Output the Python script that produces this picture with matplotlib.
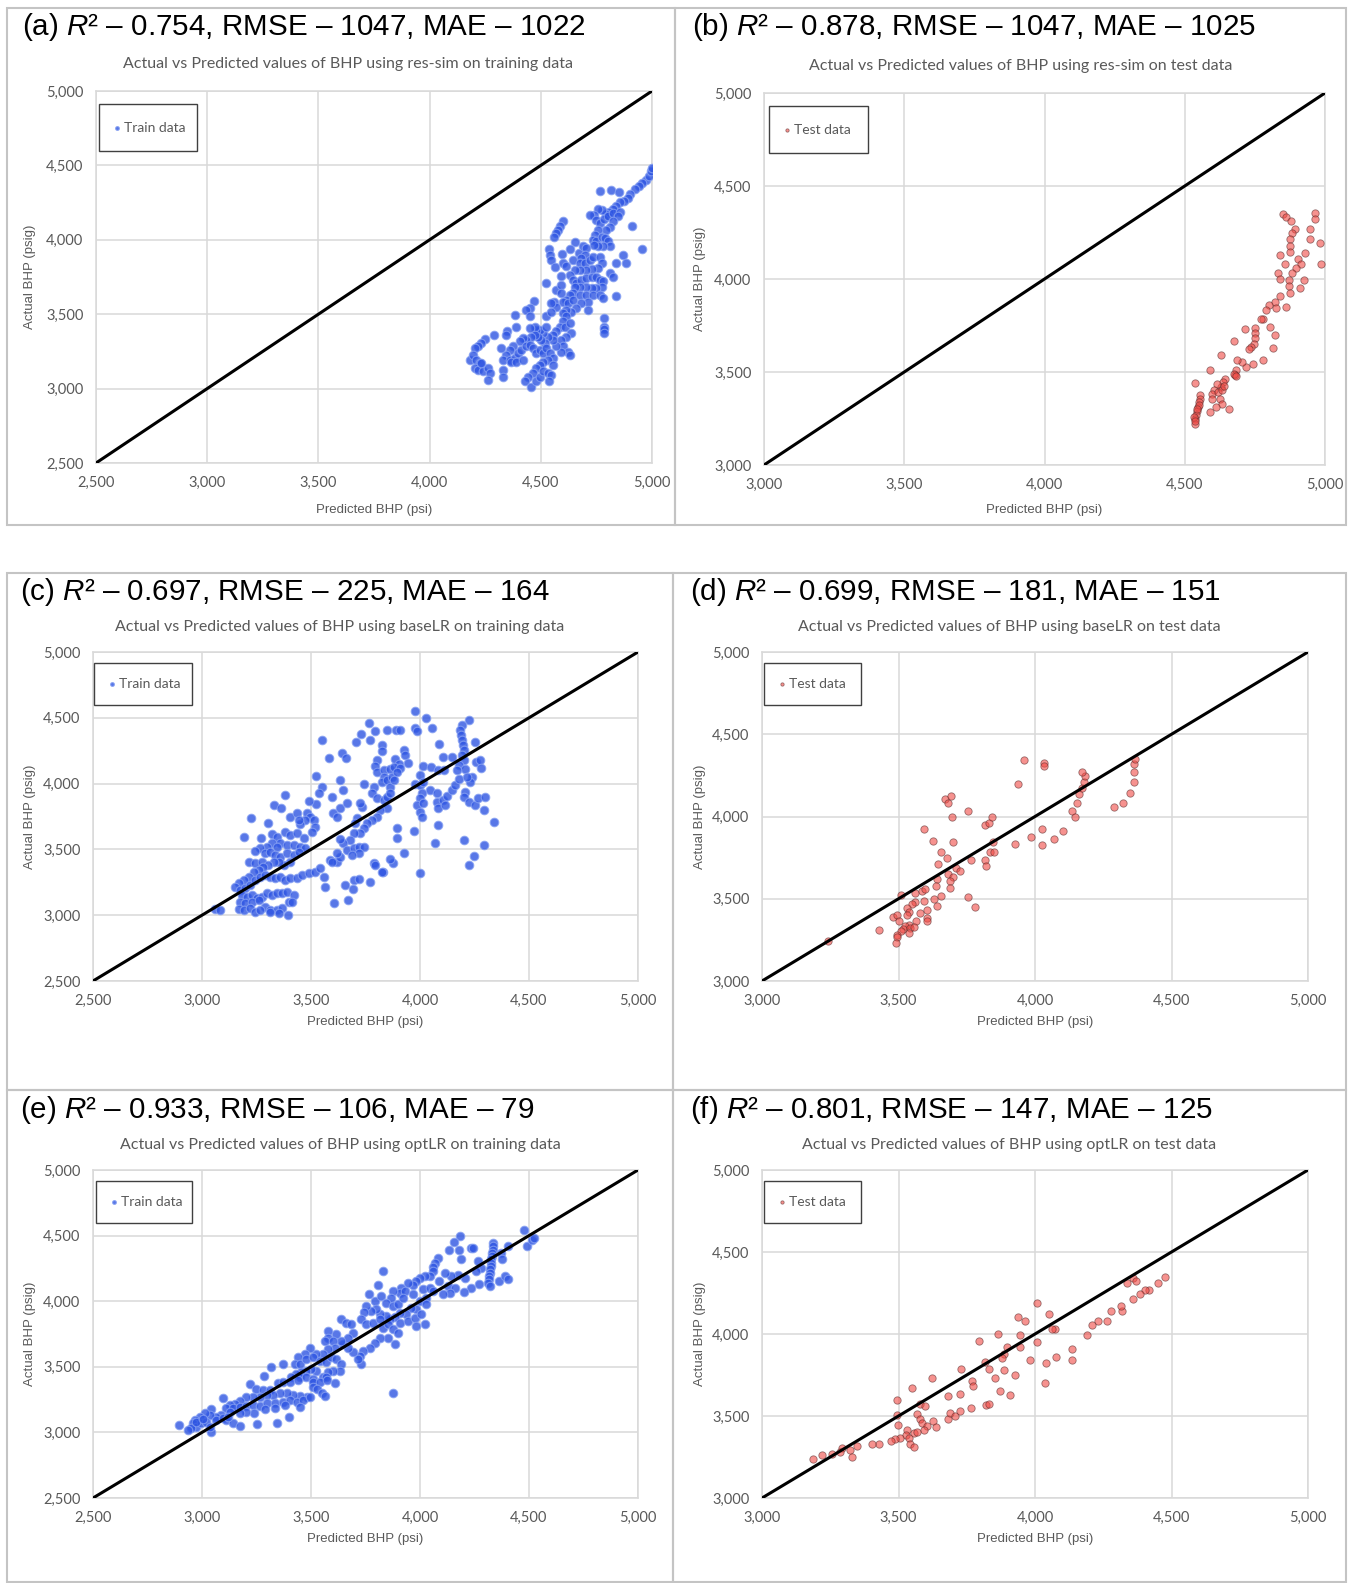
import matplotlib
matplotlib.use('Agg')
import matplotlib.pyplot as plt
from matplotlib.patches import Rectangle
from matplotlib.ticker import FuncFormatter, MultipleLocator

plt.rcParams['mathtext.fontset'] = 'custom'
plt.rcParams['mathtext.it'] = 'Liberation Sans:italic'
plt.rcParams['mathtext.rm'] = 'Liberation Sans'

# (predicted, actual) pairs
train_res_sim = [
    (4975, 4403), (4957, 4385), (4942, 4363), (4922, 4340), (4903, 4309), (4890, 4280), (4873, 4264),
    (4855, 4251), (4840, 4228), (4825, 4206), (4807, 4190), (4792, 4175), (4773, 4197), (4756, 4206),
    (4740, 4168), (4765, 4325), (4815, 4336), (4850, 4320), (4723, 4168), (4750, 4134), (4765, 4112),
    (4783, 4139), (4803, 4157), (4825, 4179), (4855, 4190), (4848, 4157), (4825, 4123), (4810, 4089),
    (4795, 4067), (4758, 4067), (4743, 4033), (4735, 4000), (4750, 3989), (4773, 4022), (4788, 4011),
    (4803, 3989), (4810, 3960), (4780, 3955), (4758, 3955), (4738, 3966), (4908, 4094), (4953, 3937),
    (4870, 3899), (4885, 3847), (4837, 3843), (4600, 4123), (4588, 4094), (4578, 4067), (4570, 4045),
    (4558, 4018), (4655, 3982), (4633, 3937), (4985, 4430), (4995, 4460), (5000, 4485),
    (4535, 3937), (4540, 3899), (4548, 3865), (4563, 3816), (4597, 3906), (4600, 3847), (4612, 3825),
    (4645, 3865), (4672, 3910), (4690, 3955), (4705, 3944), (4698, 3899), (4683, 3877), (4675, 3843),
    (4698, 3843), (4720, 3865), (4735, 3883), (4765, 3883), (4773, 3843), (4758, 3809), (4728, 3803),
    (4705, 3798), (4675, 3798), (4653, 3798), (4630, 3765), (4645, 3731), (4660, 3709), (4683, 3731),
    (4705, 3742), (4728, 3753), (4750, 3753), (4765, 3731), (4780, 3720), (4773, 3686), (4750, 3675),
    (4728, 3675), (4705, 3686), (4675, 3686), (4653, 3686), (4645, 3641), (4630, 3630), (4615, 3597),
    (4600, 3585), (4623, 3574), (4645, 3597), (4675, 3630), (4705, 3630), (4735, 3630), (4765, 3630),
    (4780, 3608), (4813, 3780), (4825, 3749), (4837, 3619), (4522, 3713), (4570, 3664), (4593, 3697),
    (4590, 3641), (4558, 3579), (4570, 3547), (4548, 3574), (4593, 3758), (4713, 3585), (4683, 3574),
    (4660, 3541), (4638, 3518), (4615, 3529), (4600, 3507), (4713, 3529), (4470, 3590), (4450, 3541),
    (4432, 3529), (4450, 3485), (4383, 3496), (4525, 3485), (4548, 3518),
    (4615, 3485), (4600, 3451), (4585, 3417), (4570, 3384), (4555, 3361), (4608, 3417), (4630, 3440),
    (4638, 3373), (4615, 3350), (4593, 3328), (4600, 3283), (4623, 3249), (4630, 3227), (4593, 3249),
    (4570, 3283), (4555, 3328), (4533, 3350), (4510, 3373), (4495, 3395), (4480, 3395), (4473, 3417),
    (4450, 3406), (4525, 3417), (4518, 3305), (4503, 3328), (4488, 3350), (4473, 3361), (4458, 3350),
    (4435, 3328), (4420, 3339), (4405, 3317), (4375, 3283), (4360, 3261), (4345, 3227), (4330, 3193),
    (4360, 3193), (4383, 3205), (4398, 3238), (4413, 3261), (4435, 3283), (4450, 3294), (4465, 3272),
    (4480, 3238), (4495, 3261), (4510, 3238), (4525, 3272), (4540, 3238), (4555, 3205), (4533, 3193),
    (4510, 3182), (4495, 3160), (4480, 3137), (4465, 3104), (4443, 3081), (4428, 3048), (4458, 3014),
    (4480, 3048), (4495, 3081), (4510, 3115), (4533, 3104), (4548, 3093), (4537, 3048), (4555, 3160),
    (4350, 3384), (4345, 3361), (4387, 3417), (4290, 3361), (4248, 3332), (4233, 3305), (4218, 3283),
    (4203, 3272), (4180, 3193), (4195, 3227), (4210, 3193), (4225, 3171), (4203, 3137), (4218, 3126),
    (4240, 3115), (4263, 3137), (4270, 3104), (4263, 3059), (4233, 3171), (4323, 3272), (4330, 3126),
    (4330, 3081), (4368, 3182), (4390, 3182), (4420, 3193), (4783, 3473), (4783, 3417), (4783, 3400),
    (4783, 3377),
]

test_res_sim = [
    (4850, 4349), (4862, 4331), (4880, 4313), (4892, 4271), (4884, 4249), (4876, 4213), (4876, 4177),
    (4874, 4145), (4964, 4354), (4966, 4322), (4946, 4271), (4946, 4213), (4982, 4195), (4928, 4141),
    (4904, 4105), (4916, 4083), (4898, 4060), (4884, 4033), (4872, 3997), (4872, 3961), (4874, 3924),
    (4838, 4127), (4856, 4083), (4832, 4033), (4838, 4000), (4924, 3997), (4910, 3952), (4984, 4083),
    (4838, 3910), (4820, 3879), (4802, 3861), (4788, 3831), (4824, 3843), (4860, 3849), (4778, 3784),
    (4772, 3784), (4752, 3735), (4752, 3708), (4749, 3681), (4748, 3650), (4736, 3632), (4730, 3621),
    (4714, 3729), (4804, 3744), (4820, 3699), (4814, 3627), (4778, 3567), (4744, 3545), (4718, 3527),
    (4704, 3554), (4688, 3567), (4682, 3509), (4680, 3482), (4676, 3491), (4684, 3477), (4676, 3666),
    (4630, 3594), (4590, 3509), (4644, 3464), (4636, 3446), (4628, 3419), (4616, 3434), (4604, 3405),
    (4598, 3383), (4596, 3356), (4620, 3392), (4632, 3401), (4640, 3423), (4624, 3356), (4632, 3329),
    (4612, 3314), (4590, 3284), (4656, 3302), (4556, 3379), (4556, 3356), (4552, 3338), (4548, 3314),
    (4544, 3293), (4540, 3271), (4538, 3248), (4536, 3221), (4538, 3441), (4550, 3320), (4544, 3302),
    (4534, 3257), (4536, 3239),
]

train_base_lr = [
    (3978, 4551), (4029, 4500), (3767, 4460), (3795, 4399), (3848, 4404), (3891, 4404), (3906, 4409),
    (3978, 4424), (3986, 4399), (4055, 4424), (4227, 4485), (4192, 4442), (4185, 4404), (4188, 4366),
    (4192, 4328), (4197, 4291), (4200, 4253), (4192, 4215), (4200, 4177), (4181, 4139), (4207, 4114),
    (4253, 4316), (4258, 4164), (4276, 4177), (4281, 4121), (4085, 4298), (4105, 4202), (4146, 4202),
    (3729, 4374), (3706, 4316), (3769, 4328), (3825, 4291), (3825, 4245), (3925, 4253), (3932, 4215),
    (3886, 4190), (3902, 4152), (3947, 4157), (3802, 4177), (3795, 4132), (3802, 4089), (3833, 4106),
    (3863, 4114), (3879, 4127), (3909, 4121), (3551, 4328), (3581, 4195), (3642, 4233), (3662, 4197),
    (4012, 4132), (4050, 4127), (4081, 4101), (4111, 4106), (4169, 4101), (4238, 4051), (4230, 4013),
    (3524, 4061),
    (3833, 4051), (3825, 4013), (3848, 4026), (3871, 4051), (3863, 3975), (3894, 4089), (3882, 4026),
    (4001, 4063), (3978, 4000), (4001, 3988), (4016, 4013), (4044, 3950), (4009, 3925), (4001, 3887),
    (3986, 3836), (4013, 3849), (3998, 3786), (4009, 3748), (4078, 3925), (4078, 3862), (4081, 3811),
    (4105, 3874), (4116, 3836), (4126, 3904), (4146, 3950), (4162, 3988), (4177, 4038), (4215, 4051),
    (4207, 3937), (4200, 3899), (4227, 3861), (4253, 3836), (4264, 3894), (4299, 3899), (4292, 3798),
    (4341, 3710), (3741, 4000), (3787, 3975), (3779, 3925), (3802, 3887), (3833, 3874), (3848, 3899),
    (3863, 3925), (3848, 3811), (3818, 3798), (3802, 3748), (3779, 3723), (3756, 3697), (3741, 3659),
    (3726, 3621), (3711, 3735), (3733, 3824), (3726, 3849), (3703, 3697), (3634, 4026), (3649, 3950),
    (3631, 3811), (3603, 3773), (3619, 3748), (3550, 3975), (3535, 3925), (3596, 3899), (3524, 3844),
    (3493, 3869), (3481, 3773), (3496, 3748), (3512, 3723), (3474, 3723), (3451, 3692), (3519, 3672),
    (3504, 3634), (3665, 3849), (3695, 3621), (3680, 3571), (3649, 3546), (3634, 3576), (3894, 3659),
    (3894, 3584), (3974, 3642), (4070, 3546), (4081, 3685), (4200, 3571), (4295, 3533), (3382, 3912),
    (3328, 3836), (3362, 3811), (3405, 3748), (3435, 3773), (3443, 3723), (3226, 3735), (3305, 3702),
    (3194, 3596), (3270, 3584), (3321, 3617), (3344, 3596), (3382, 3634), (3405, 3609), (3435, 3621),
    (3466, 3584), (3359, 3546), (3321, 3546), (3298, 3520), (3267, 3508), (3244, 3490), (3390, 3533),
    (3420, 3533), (3451, 3520), (3474, 3508), (3344, 3520),
    (3214, 3407), (3244, 3394), (3275, 3407), (3290, 3470), (3313, 3483), (3336, 3457), (3359, 3445),
    (3390, 3470), (3420, 3457), (3443, 3483), (3405, 3407), (3374, 3382), (3351, 3407), (3328, 3407),
    (3305, 3382), (3282, 3369), (3260, 3344), (3237, 3331), (3214, 3293), (3191, 3268), (3168, 3243),
    (3152, 3218), (3175, 3192), (3198, 3205), (3221, 3230), (3244, 3268), (3267, 3293), (3290, 3306),
    (3313, 3293), (3336, 3281), (3359, 3293), (3382, 3268), (3405, 3281), (3435, 3281), (3458, 3306),
    (3489, 3318), (3520, 3331), (3543, 3356), (3558, 3293), (3565, 3218), (3588, 3419), (3619, 3407),
    (3634, 3445), (3665, 3495), (3695, 3508), (3718, 3520), (3741, 3520), (3718, 3470), (3688, 3457),
    (3619, 3470), (3596, 3407), (3787, 3394), (3830, 3331), (3876, 3399), (3928, 3475), (4001, 3318),
    (4227, 3382), (4249, 3450), (3183, 3154), (3206, 3142), (3229, 3154), (3252, 3129), (3275, 3142),
    (3298, 3167), (3321, 3154), (3344, 3167), (3367, 3167), (3390, 3180), (3420, 3154), (3175, 3104),
    (3198, 3091), (3229, 3104), (3260, 3116), (3290, 3066), (3313, 3041), (3344, 3041), (3367, 3053),
    (3397, 3104), (3412, 3104), (3168, 3046), (3191, 3041), (3221, 3053), (3244, 3028), (3267, 3041),
    (3313, 3028), (3351, 3020), (3393, 3003), (3061, 3046), (3084, 3036), (3607, 3091), (3672, 3116),
    (3657, 3230), (3695, 3268), (3718, 3273), (3692, 3197), (3772, 3250), (3825, 3331), (3863, 3425),
    (3795, 3382),
]

test_base_lr = [
    (3958, 4344), (4034, 4324), (4034, 4307), (3936, 4196), (3671, 4105), (3681, 4081), (3693, 4125),
    (3754, 4034), (3695, 3996), (3818, 3949), (3830, 3959), (3842, 3996), (3592, 3925), (3626, 3854),
    (3699, 3846), (3656, 3787), (3677, 3747), (3644, 3710), (3711, 3686), (3726, 3670), (3683, 3652),
    (3699, 3635), (3689, 3605), (3687, 3565), (3640, 3621), (3637, 3575), (3846, 3842), (3836, 3787),
    (3848, 3787), (3765, 3733), (3818, 3737), (3820, 3702), (3928, 3834), (3985, 3878), (4024, 3824),
    (4025, 3925), (4071, 3864), (4102, 3909), (4135, 4034), (4148, 3996), (4154, 4081), (4163, 4137),
    (4172, 4176), (4178, 4212), (4184, 4247), (4172, 4273), (4288, 4056), (4322, 4081), (4347, 4145),
    (4364, 4212), (4361, 4273), (4361, 4318), (4368, 4350), (3508, 3524), (3561, 3534), (3585, 3550),
    (3598, 3559), (3561, 3478), (3592, 3484), (3549, 3470), (3530, 3443), (3537, 3417), (3530, 3403),
    (3579, 3413), (3604, 3433), (3631, 3500), (3656, 3514), (3640, 3457), (3754, 3510), (3781, 3447),
    (3479, 3387), (3496, 3399), (3502, 3366), (3606, 3382), (3606, 3362), (3565, 3362), (3537, 3342),
    (3524, 3332), (3518, 3316), (3543, 3322), (3555, 3328), (3537, 3291), (3508, 3301), (3494, 3281),
    (3494, 3267), (3491, 3231), (3430, 3308), (3242, 3243),
]

train_opt_lr = [
    (4476, 4546), (4493, 4424), (4515, 4470), (4522, 4482), (4182, 4500), (4155, 4452), (4133, 4394),
    (4179, 4394), (4190, 4323), (4236, 4402), (4243, 4402), (4335, 4445), (4335, 4419), (4335, 4394),
    (4332, 4369), (4330, 4343), (4327, 4318), (4327, 4293), (4324, 4267), (4323, 4242), (4320, 4217),
    (4317, 4191), (4315, 4166), (4312, 4141), (4320, 4115), (4373, 4369), (4404, 4419), (4378, 4318),
    (4363, 4153), (4389, 4191), (4404, 4166), (4266, 4310), (4282, 4255), (4256, 4229), (4271, 4128),
    (4236, 4103), (4205, 4179), (4200, 4072), (4174, 4199), (4144, 4191), (4113, 4217), (4087, 4153),
    (4129, 4115), (4159, 4098), (4136, 4065), (4106, 4052), (4083, 4326), (4067, 4293), (4060, 4260),
    (4060, 4229), (4044, 4191), (4022, 4191), (3999, 4174), (3983, 4153), (3968, 4123), (3945, 4141),
    (3915, 4103), (3907, 4065), (3930, 4077), (3876, 4077), (3869, 4027), (3830, 4229), (3808, 4123),
    (3766, 4057), (3792, 4001), (3823, 4039), (3846, 3989), (3876, 3963), (3899, 3981), (3922, 4027),
    (3968, 4052), (4014, 4090), (4044, 4103), (4060, 4077), (4029, 4027), (3999, 4001), (4029, 3976),
    (3983, 3938), (3960, 3951), (3937, 3900), (3907, 3913), (3884, 3880), (3861, 3862), (3846, 3888),
    (3815, 3900), (3800, 3938), (3777, 3925), (3754, 3963), (3742, 3920), (3731, 3862), (3754, 3824),
    (3785, 3837), (3815, 3862), (3830, 3799), (3853, 3824), (3876, 3786), (3907, 3837), (3945, 3850),
    (3976, 3875), (4006, 3900), (4025, 3829), (3983, 3812), (3899, 3761), (3884, 3677), (3853, 3723),
    (3815, 3723), (3792, 3685), (3769, 3647), (3739, 3622), (3723, 3584), (3731, 3520), (3716, 3558),
    (3693, 3609), (3670, 3647), (3647, 3672), (3639, 3862), (3662, 3837), (3685, 3824), (3693, 3761),
    (3670, 3723), (3639, 3698), (3616, 3748), (3578, 3774), (3578, 3723), (3563, 3698), (3601, 3698),
    (3609, 3647), (3578, 3634), (3555, 3596), (3525, 3596), (3494, 3647), (3471, 3596), (3441, 3571),
    (3425, 3520), (3448, 3520), (3479, 3558), (3509, 3571), (3540, 3546), (3571, 3533), (3593, 3571),
    (3616, 3558), (3639, 3520), (3632, 3470), (3601, 3470), (3578, 3457), (3555, 3419), (3525, 3470),
    (3502, 3482), (3479, 3470), (3456, 3457), (3433, 3444), (3410, 3419), (3448, 3419), (3479, 3419),
    (3509, 3406), (3571, 3419), (3318, 3495), (3372, 3525), (3283, 3432),
    (3219, 3368), (3247, 3327), (3281, 3322), (3311, 3322), (3350, 3373), (3373, 3385), (3403, 3385),
    (3442, 3398), (3511, 3385), (3541, 3385), (3572, 3398), (3610, 3378), (3511, 3347), (3526, 3327),
    (3549, 3297), (3564, 3276), (3480, 3271), (3449, 3276), (3419, 3284), (3388, 3297), (3357, 3297),
    (3327, 3284), (3296, 3284), (3265, 3271), (3235, 3271), (3204, 3271), (3173, 3241), (3150, 3216),
    (3127, 3208), (3096, 3266), (3112, 3183), (3143, 3183), (3173, 3195), (3204, 3200), (3235, 3208),
    (3265, 3200), (3296, 3221), (3334, 3226), (3373, 3233), (3403, 3246), (3434, 3233), (3465, 3246),
    (3495, 3271), (3380, 3208), (3449, 3195), (3334, 3183), (3288, 3175), (3238, 3145), (3204, 3157),
    (3173, 3145), (3127, 3157), (3089, 3132), (3066, 3119), (3043, 3175), (3035, 3132), (3012, 3145),
    (2989, 3119), (2966, 3094), (2958, 3069), (2974, 3043), (2951, 3031), (2935, 3018), (2997, 3069),
    (3020, 3081), (3043, 3003), (3035, 3043), (3066, 3094), (3096, 3107), (3112, 3094), (3143, 3069),
    (3176, 3049), (3252, 3064), (3342, 3074), (3400, 3114), (2894, 3056), (3874, 3304), (2974, 3081),
    (3004, 3099), (3119, 3119),
]

test_opt_lr = [
    (4477, 4348), (4449, 4314), (4418, 4269), (4402, 4269), (4385, 4243), (4360, 4213), (4360, 4340),
    (4369, 4324), (4336, 4308), (4320, 4142), (4316, 4172), (4277, 4138), (4263, 4077), (4232, 4077),
    (4207, 4057), (4192, 3996), (4136, 3909), (4136, 3842), (4078, 3862), (4075, 4030), (4063, 4030),
    (4053, 4122), (4042, 3822), (4035, 3701), (4008, 4192), (4008, 3950), (3981, 3844), (3965, 4077),
    (3938, 4101), (3944, 3994), (3944, 3923), (3898, 3923), (3886, 3879), (3879, 3852), (3888, 3782),
    (3928, 3747), (3910, 3626), (3871, 3652), (3852, 3733), (3832, 3786), (3818, 3832), (3796, 3960),
    (3865, 3998), (3769, 3711), (3773, 3680), (3730, 3786), (3726, 3636), (3681, 3620), (3622, 3731),
    (3551, 3670), (3494, 3599), (3496, 3508), (3499, 3448), (3567, 3514), (3577, 3575), (3598, 3559),
    (3580, 3484), (3586, 3458), (3604, 3437), (3592, 3417), (3628, 3468), (3637, 3433), (3681, 3484),
    (3690, 3518), (3708, 3498), (3724, 3531), (3766, 3551), (3819, 3565), (3832, 3571), (3557, 3397),
    (3567, 3403), (3531, 3413), (3528, 3383), (3537, 3367), (3543, 3332), (3555, 3308), (3506, 3363),
    (3488, 3358), (3472, 3346), (3427, 3328), (3402, 3328), (3347, 3316), (3322, 3292), (3292, 3302),
    (3286, 3282), (3255, 3271), (3218, 3261), (3188, 3235), (3329, 3247),
]

titles = [
    r'(a) $\mathit{R}$² – 0.754, RMSE – 1047, MAE – 1022',
    r'(b) $\mathit{R}$² – 0.878, RMSE – 1047, MAE – 1025',
    r'(c) $\mathit{R}$² – 0.697, RMSE – 225, MAE – 164',
    r'(d) $\mathit{R}$² – 0.699, RMSE – 181, MAE – 151',
    r'(e) $\mathit{R}$² – 0.933, RMSE – 106, MAE – 79',
    r'(f) $\mathit{R}$² – 0.801, RMSE – 147, MAE – 125',
]
subtitles = [
    'Actual vs Predicted values of BHP using res-sim on training data',
    'Actual vs Predicted values of BHP using res-sim on test data',
    'Actual vs Predicted values of BHP using baseLR on training data',
    'Actual vs Predicted values of BHP using baseLR on test data',
    'Actual vs Predicted values of BHP using optLR on training data',
    'Actual vs Predicted values of BHP using optLR on test data',
]
series = [train_res_sim, test_res_sim, train_base_lr, test_base_lr, train_opt_lr, test_opt_lr]
kinds = ['train', 'test', 'train', 'test', 'train', 'test']
axis_min = [2500, 3000, 2500, 3000, 2500, 3000]
axis_max = 5000

W, H = 1349, 1583
fig = plt.figure(figsize=(W / 100, H / 100), dpi=100)
fig.patch.set_facecolor('white')

# layout in pixels
axes_px = [(96, 91, 652, 463), (764, 93, 1325, 465),
           (93, 652, 638, 981), (762, 652, 1308, 981),
           (93, 1170, 638, 1498), (762, 1170, 1308, 1498)]
title_px = [(22, 27), (692, 27), (20, 592), (690, 592), (20, 1110), (690, 1110)]
sub_px = [(348, 64), (1021, 66), (340, 627), (1009, 627), (340, 1145), (1009, 1145)]
ylab_x = [30, 700, 30, 700, 30, 700]
xlab_y = [510, 510, 1022, 1022, 1539, 1539]
# legend box: offset from axes top-left, width, height (px)
leg_box = [(3, 13, 98, 47), (5, 13, 99, 47), (1, 11, 98, 42),
           (2, 11, 97, 42), (3, 11, 96, 42), (2, 11, 97, 42)]

# panel frames
for (x0, y0, x1, y1) in [(7, 8, 675, 525), (675, 8, 1346, 525), (7, 573, 673, 1090),
                         (673, 573, 1346, 1090), (7, 1090, 673, 1582), (673, 1090, 1346, 1582)]:
    fig.add_artist(Rectangle((x0 / W, 1 - y1 / H), (x1 - x0) / W, (y1 - y0) / H,
                             transform=fig.transFigure, fill=False, edgecolor='#C4C4C4', lw=1.5))

gray = '#595959'
fmt = FuncFormatter(lambda v, p: f'{v:,.0f}')

for i in range(6):
    l, t, r, b = axes_px[i]
    aw, ah = r - l, b - t
    ax = fig.add_axes([l / W, 1 - b / H, aw / W, ah / H])
    lo = axis_min[i]
    ax.set_xlim(lo, axis_max)
    ax.set_ylim(lo, axis_max)
    ax.xaxis.set_major_locator(MultipleLocator(500))
    ax.yaxis.set_major_locator(MultipleLocator(500))
    ax.xaxis.set_major_formatter(fmt)
    ax.yaxis.set_major_formatter(fmt)
    ax.grid(True, color='#D9D9D9', lw=1.1)
    ax.set_axisbelow(True)
    for s in ax.spines.values():
        s.set_color('#D9D9D9')
        s.set_linewidth(1.1)
    ax.tick_params(length=0, labelsize=10.5, labelcolor=gray, pad=9)
    for lab in ax.get_xticklabels() + ax.get_yticklabels():
        lab.set_family('Lato')

    xs = [p[0] for p in series[i]]
    ys = [p[1] for p in series[i]]
    if kinds[i] == 'train':
        ax.scatter(xs, ys, s=38, color='#2E55E2', alpha=0.8, edgecolors='#86A0F2',
                   linewidths=0.8, label='Train data', zorder=3)
    else:
        ax.scatter(xs, ys, s=28, color='#F04A44', alpha=0.6, edgecolors='#5A2A2A',
                   linewidths=0.6, label='Test data', zorder=3)
    ax.plot([lo, axis_max], [lo, axis_max], color='black', lw=2.2, zorder=4,
            solid_capstyle='butt')

    # legend: frameless legend inside a drawn box
    ox, oy, bw, bh = leg_box[i]
    ax.add_patch(Rectangle((ox / aw, 1 - (oy + bh) / ah), bw / aw, bh / ah,
                           transform=ax.transAxes, fill=True, facecolor='white',
                           edgecolor='#404040', lw=1.0, zorder=5, clip_on=False))
    leg = ax.legend(loc='center left',
                    bbox_to_anchor=((ox + 14) / aw, 1 - (oy + bh / 2) / ah), borderaxespad=0,
                    frameon=False, markerscale=0.45, borderpad=0,
                    handletextpad=0.2, handlelength=0.6,
                    prop={'family': 'Lato', 'size': 10})
    leg.set_zorder(6)
    for txt in leg.get_texts():
        txt.set_color(gray)

    fig.text(title_px[i][0] / W, 1 - title_px[i][1] / H, titles[i], fontsize=21.3,
             family='Liberation Sans', ha='left', va='center', color='black')
    fig.text(sub_px[i][0] / W, 1 - sub_px[i][1] / H, subtitles[i], fontsize=11.5,
             family='Lato', ha='center', va='center', color=gray)
    fig.text(ylab_x[i] / W, 1 - (t + b) / 2 / H, 'Actual BHP (psig)', rotation=90,
             fontsize=9.5, family='Liberation Sans', ha='center', va='center', color=gray)
    fig.text((l + r) / 2 / W, 1 - xlab_y[i] / H, 'Predicted BHP (psi)',
             fontsize=9.5, family='Liberation Sans', ha='center', va='center', color=gray)

fig.savefig('out.png', dpi=100)
